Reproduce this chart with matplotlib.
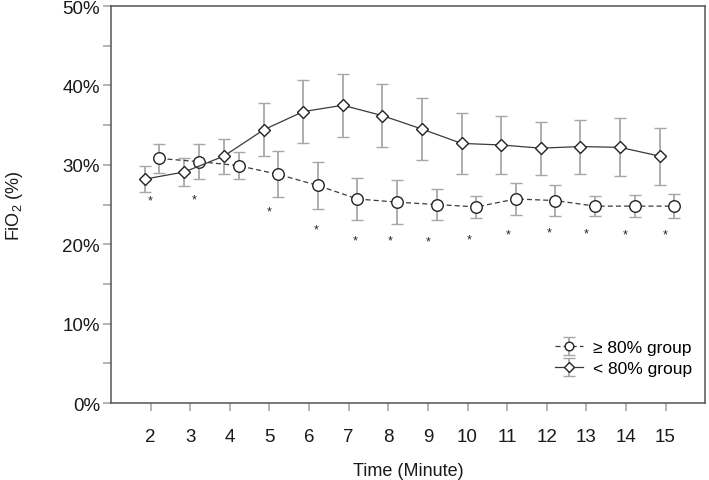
import numpy as np
import matplotlib
matplotlib.use("Agg")
import matplotlib.pyplot as plt
from matplotlib.ticker import MultipleLocator, FuncFormatter

plt.rcParams['font.family'] = ['Liberation Sans', 'DejaVu Sans']
plt.rcParams['mathtext.fontset'] = 'custom'
plt.rcParams['mathtext.rm'] = 'Liberation Sans'
plt.rcParams['mathtext.it'] = 'Liberation Sans:italic'

# time points (minutes)
minutes = [2, 3, 4, 5, 6, 7, 8, 9, 10, 11, 12, 13, 14, 15]

# >= 80% group, FiO2 mean and SD (%)
high_mean = [30.8, 30.4, 29.9, 28.8, 27.4, 25.7, 25.3, 25.0, 24.7, 25.7, 25.5, 24.8, 24.8, 24.8]
high_sd = [1.8, 2.2, 1.7, 2.9, 2.9, 2.7, 2.8, 2.0, 1.4, 2.0, 1.9, 1.3, 1.4, 1.5]

# < 80% group
low_mean = [28.2, 29.1, 31.1, 34.4, 36.7, 37.5, 36.2, 34.5, 32.7, 32.5, 32.1, 32.3, 32.2, 31.1]
low_sd = [1.6, 1.8, 2.2, 3.35, 4.0, 3.95, 4.0, 3.9, 3.8, 3.6, 3.35, 3.4, 3.65, 3.6]

# significance markers
star_x = [2.0, 3.1, 5.0, 6.18, 7.16, 8.05, 9.0, 10.05, 11.03, 12.05, 13.0, 13.97, 15.0]
star_y = [25.5, 25.7, 24.1, 21.9, 20.5, 20.5, 20.3, 20.65, 21.2, 21.5, 21.4, 21.2, 21.2]

t = np.array(minutes, dtype=float)

fig = plt.figure(figsize=(7.09, 4.81), dpi=100)
ax = fig.add_axes([0.1566, 0.160, 0.838, 0.8254])

err_kw = dict(ecolor='#a8a8a8', elinewidth=1.3, capsize=4, capthick=1.2)

ax.errorbar(t + 0.22, high_mean, yerr=high_sd, fmt='o', linestyle=(0, (4, 2.5)),
            color='#3a3a3a', lw=0.9, mfc='white', mec='#222222', mew=1.0, ms=8.3,
            label='\u2265 80% group', zorder=3, **err_kw)
ax.errorbar(t - 0.15, low_mean, yerr=low_sd, fmt='D', linestyle='-',
            color='#3a3a3a', lw=0.9, mfc='white', mec='#222222', mew=1.0, ms=6.5,
            label='< 80% group', zorder=3, **err_kw)

for sx, sy in zip(star_x, star_y):
    ax.text(sx, sy, '*', ha='center', va='center', fontsize=9, color='#222222')

ax.set_xlim(1, 16)
ax.set_ylim(0, 50)
ax.set_xticks(minutes)
ax.yaxis.set_major_locator(MultipleLocator(10))
ax.yaxis.set_minor_locator(MultipleLocator(5))
ax.yaxis.set_major_formatter(FuncFormatter(lambda v, p: f'{v:.0f}%'))

for s in ax.spines.values():
    s.set_color('#555555')
    s.set_linewidth(1.1)

ax.tick_params(axis='both', which='both', direction='out', color='#a0a0a0',
               width=1.1, length=6, labelsize=13.5, labelcolor='#1a1a1a')
ax.tick_params(axis='x', pad=12)
ax.tick_params(axis='y', pad=2)

ax.set_xlabel('Time (Minute)', fontsize=13, color='#1a1a1a', labelpad=12)
ax.set_ylabel('FiO$_2$ (%)', fontsize=13, color='#1a1a1a', labelpad=27)

leg = ax.legend(loc='lower right', bbox_to_anchor=(0.99, 0.05), frameon=False,
                fontsize=12.5, handlelength=1.6, handletextpad=0.6,
                labelspacing=0.35, markerscale=0.75, borderaxespad=0)

fig.savefig('out.png', dpi=100)
